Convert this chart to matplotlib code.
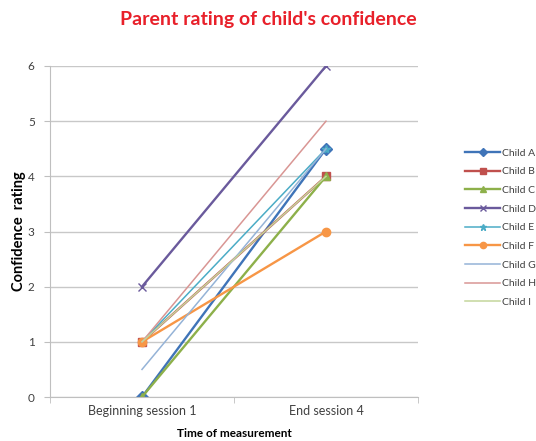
import matplotlib
matplotlib.use("Agg")
import matplotlib.pyplot as plt

plt.rcParams['font.family'] = ['Lato', 'DejaVu Sans']

# data
sessions = ["Beginning session 1", "End session 4"]
children = ["Child A", "Child B", "Child C", "Child D", "Child E",
            "Child F", "Child G", "Child H", "Child I"]
start = [0, 1, 0, 2, 1, 1, 0.5, 1, 1]
end = [4.5, 4, 4, 6, 4.5, 3, 4.5, 5, 4]

colors = ["#3F74B8", "#C0504D", "#8DB04A", "#6A5A9C", "#4BACC6",
          "#F79646", "#95B3D7", "#D99694", "#C3D69B"]
markers = ["D", "s", "^", "x", "*", "o", "", "", ""]
widths = [1.7, 1.7, 1.7, 1.7, 1.1, 1.7, 1.1, 1.1, 1.1]

fig = plt.figure(figsize=(5.36, 4.41), dpi=100)
ax = fig.add_axes([50/536, 1 - 397/441, 368/536, 331/441])

x = [0, 1]
for i in range(len(children)):
    ax.plot(x, [start[i], end[i]], color=colors[i], marker=markers[i],
            markersize=6, lw=widths[i], label=children[i])

ax.set_xlim(-0.5, 1.5)
ax.set_ylim(0, 6)
ax.set_yticks(range(0, 7))
ax.set_xticks(x)
ax.set_xticklabels(sessions, fontsize=9, color="#404040")
ax.set_xticks([-0.5, 0.5, 1.5], minor=True)
ax.tick_params(axis='x', which='major', length=0, pad=6)
ax.tick_params(axis='x', which='minor', length=4, color="#bfbfbf")
ax.tick_params(axis='y', labelsize=8.5, colors="#404040", length=4,
               color="#bfbfbf", pad=7)
ax.grid(axis='y', color="#c8c8c8", lw=1)
ax.set_axisbelow(True)
for s in ["top", "right"]:
    ax.spines[s].set_visible(False)
ax.spines["left"].set_color("#bfbfbf")
ax.spines["bottom"].set_color("#bfbfbf")

ax.set_ylabel("Confidence  rating", fontsize=10.5, fontweight="bold", labelpad=1)
ax.set_xlabel("Time of measurement", fontsize=8.5, fontweight="bold", labelpad=8)
fig.text(268/536, 1 - 20/441, "Parent rating of child's confidence",
         color="#E8202A", fontsize=14, fontweight="bold", ha="center", va="center")

leg = fig.legend(loc="upper left", bbox_to_anchor=(456/536, 1 - 139/441),
                 frameon=False, fontsize=7.5, labelspacing=0.9,
                 handlelength=3.3, handletextpad=0.2, markerscale=0.75)
for t in leg.get_texts():
    t.set_color("#404040")

fig.savefig("out.png", dpi=100)
